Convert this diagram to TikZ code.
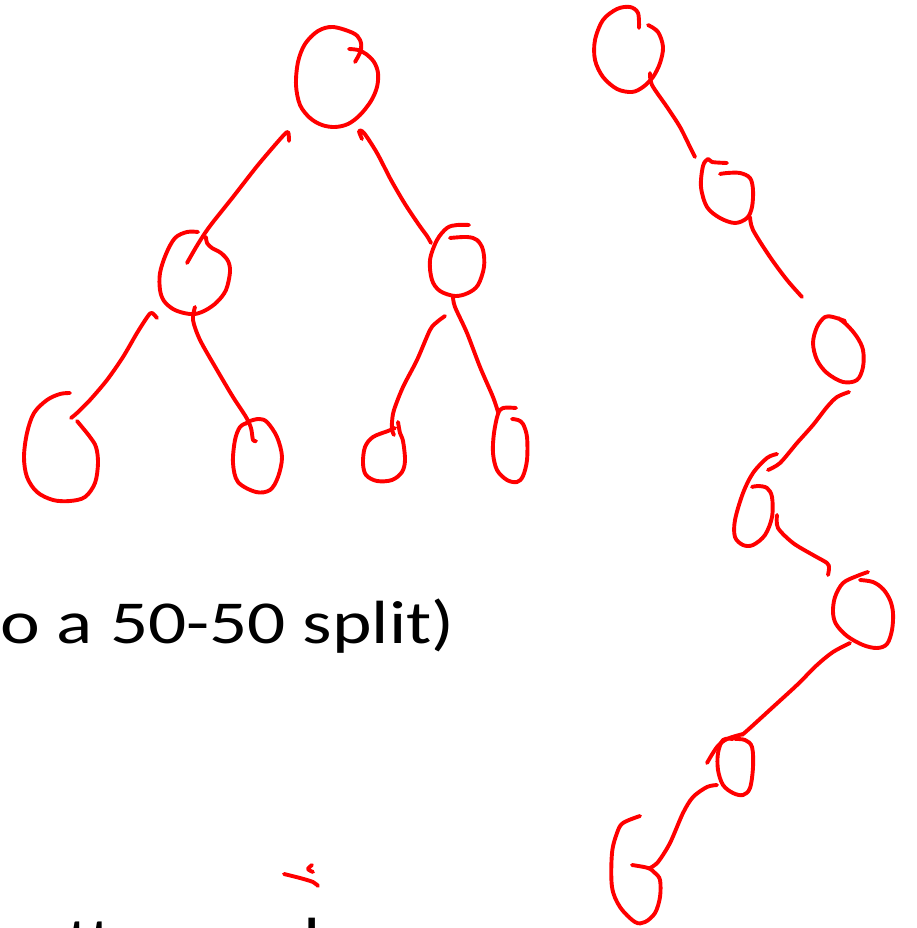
\documentclass[tikz,border=0pt]{standalone}
\usepackage{fontspec}
\setmainfont{Carlito}
\begin{document}
\begin{tikzpicture}[x=1pt,y=-1pt,
  ink/.style={draw=red, line width=3.9pt, line cap=round, line join=round},
  slidetext/.style={font=\fontsize{61}{70}\selectfont, text=black, inner sep=0pt, xscale=1.235}]
\useasboundingbox (0,0) rectangle (917,928);
\clip (0,0) rectangle (917,928);

% ---- balanced tree ----
% root
\draw[ink] plot[smooth, tension=0.55] coordinates {(355,62) (361,50) (360,40) (353,33) (333,27) (318,31) (305,44) (298,62) (296,85) (300,105) (310,118) (322,125) (335,127) (348,124) (360,115) (371,101) (377,87) (378,73) (374,62) (366,54) (358,50) (349,49)};
% root -> left child
\draw[ink] plot[smooth, tension=0.5] coordinates {(289,141) (288,132) (282,137) (258,165) (233,197) (210,226) (198,244) (187,263)};
% root -> right child
\draw[ink] plot[smooth, tension=0.5] coordinates {(362,139) (359,131) (364,133) (377,153) (391,180) (405,204) (419,225) (427,236) (431,243)};
% left child
\draw[ink] plot[smooth, tension=0.55] coordinates {(198,232) (187,232) (175,238) (166,254) (160,273) (160,290) (164,301) (173,309) (184,313) (195,314) (206,310) (217,302) (226,290) (230,272) (228,261) (221,253) (212,248) (207,243) (206,237)};
% right child
\draw[ink] plot[smooth, tension=0.55] coordinates {(469,225) (457,225) (447,228) (437,240) (430,260) (432,280) (440,291) (455,296) (468,293) (478,285) (484,267) (483,250) (477,240) (467,237) (450,238)};

% left child -> leftmost leaf
\draw[ink] plot[smooth, tension=0.5] coordinates {(157,318) (152,313) (148,316) (137,333) (123,357) (107,380) (90,400) (77,413) (71,418)};
% leftmost leaf
\draw[ink] plot[smooth, tension=0.55] coordinates {(70,393) (60,394) (47,400) (34,413) (27,433) (24,457) (27,477) (37,492) (53,500) (70,501) (85,497) (95,483) (98,463) (96,447) (90,437) (82,427) (77,421)};
% left child -> second leaf
\draw[ink] plot[smooth, tension=0.5] coordinates {(195,307) (193,320) (200,340) (217,370) (233,397) (246,417) (251,428) (253,440) (256,441)};
% second leaf
\draw[ink] plot[smooth, tension=0.55] coordinates {(247,423) (240,427) (235,440) (233,463) (238,482) (256,492) (270,490) (278,477) (282,457) (277,437) (267,422) (259,419) (250,421) (245,424)};
% right child -> third leaf
\draw[ink] plot[smooth, tension=0.5] coordinates {(445,316) (437,322) (430,330) (417,360) (403,387) (394,410) (392,422) (392,430) (394,435)};
% third leaf
\draw[ink] plot[smooth, tension=0.55] coordinates {(398,422) (400,433) (403,441) (405,460) (402,472) (392,480) (377,481) (366,475) (363,463) (365,447) (373,437) (388,431) (395,428)};
% right child -> fourth leaf
\draw[ink] plot[smooth, tension=0.5] coordinates {(453,297) (455,307) (467,333) (480,367) (493,397) (498,412)};
% fourth leaf
\draw[ink] plot[smooth, tension=0.55] coordinates {(516,408) (503,408) (498,414) (494,433) (493,453) (497,470) (507,480) (517,482) (523,476) (527,460) (527,437) (523,424) (518,420) (512,419)};

% ---- degenerate chain ----
% node 1
\draw[ink] plot[smooth, tension=0.55] coordinates {(639,28) (638,13) (630,7) (617,9) (603,20) (595,40) (595,60) (603,77) (617,89) (632,92) (643,87) (653,77) (660,63) (663,47) (658,32) (648,25)};
\draw[ink] plot[smooth, tension=0.5] coordinates {(650,73) (652,85) (667,107) (680,127) (690,147) (695,157)};
% node 2
\draw[ink] plot[smooth, tension=0.55] coordinates {(727,163) (712,162) (708,159) (703,166) (701,187) (707,207) (720,218) (735,223) (747,218) (752,207) (753,190) (750,178) (740,173) (727,173) (720,174)};
\draw[ink] plot[smooth, tension=0.5] coordinates {(750,217) (753,230) (770,257) (787,280) (802,297)};
% node 3
\draw[ink] plot[smooth, tension=0.55] coordinates {(845,321) (833,317) (825,317) (817,327) (813,343) (817,360) (827,373) (843,382) (857,380) (863,367) (863,350) (857,337) (847,325) (838,318)};
\draw[ink] plot[smooth, tension=0.5] coordinates {(849,392) (837,397) (827,407) (813,425) (797,443) (780,463) (768,470)};
% node 4
\draw[ink] plot[smooth, tension=0.55] coordinates {(777,454) (767,458) (753,473) (743,493) (735,520) (735,537) (743,545) (753,545) (765,535) (772,517) (772,497) (767,488) (758,486) (752,487)};
\draw[ink] plot[smooth, tension=0.5] coordinates {(777,515) (778,528) (793,543) (813,555) (827,563) (829,568) (828,575)};
% node 5
\draw[ink] plot[smooth, tension=0.55] coordinates {(868,572) (857,576) (843,583) (835,597) (833,612) (836,624) (847,636) (863,645) (877,648) (887,644) (892,630) (893,613) (890,600) (883,589) (873,582) (860,580)};
\draw[ink] plot[smooth, tension=0.5] coordinates {(850,643) (833,652) (817,665) (797,685) (773,707) (750,728) (742,735)};
% node 6
\draw[ink] plot[smooth, tension=0.55] coordinates {(707,763) (717,747) (727,739) (743,734)};
\draw[ink] plot[smooth, tension=0.55] coordinates {(733,739) (723,740) (718,753) (718,770) (723,785) (733,793) (743,795) (750,788) (753,767) (752,747) (745,740) (735,739)};
\draw[ink] plot[smooth, tension=0.5] coordinates {(717,785) (707,787) (693,797) (683,813) (670,843) (658,862) (650,868)};
% node 7
\draw[ink] plot[smooth, tension=0.55] coordinates {(640,816) (623,823) (617,833) (612,853) (612,887) (620,907) (635,922) (645,922) (655,913) (660,897) (660,880) (655,873) (648,868) (632,865)};

% small stray stroke
\draw[ink] plot[smooth, tension=0.5] coordinates {(284,874) (300,878) (313,882) (318,886)};
\draw[ink] plot[smooth, tension=0.5] coordinates {(312,865) (308,869) (313,872)};

% ---- slide text ----
\node[slidetext, anchor=base west] (split) at (0,643) {o a 50-50 split)};
\node[slidetext, anchor=base west] (lowtt) at (66,960) {tt};
\node[slidetext, anchor=base west] (lowl) at (303,960) {l};
\end{tikzpicture}
\end{document}
